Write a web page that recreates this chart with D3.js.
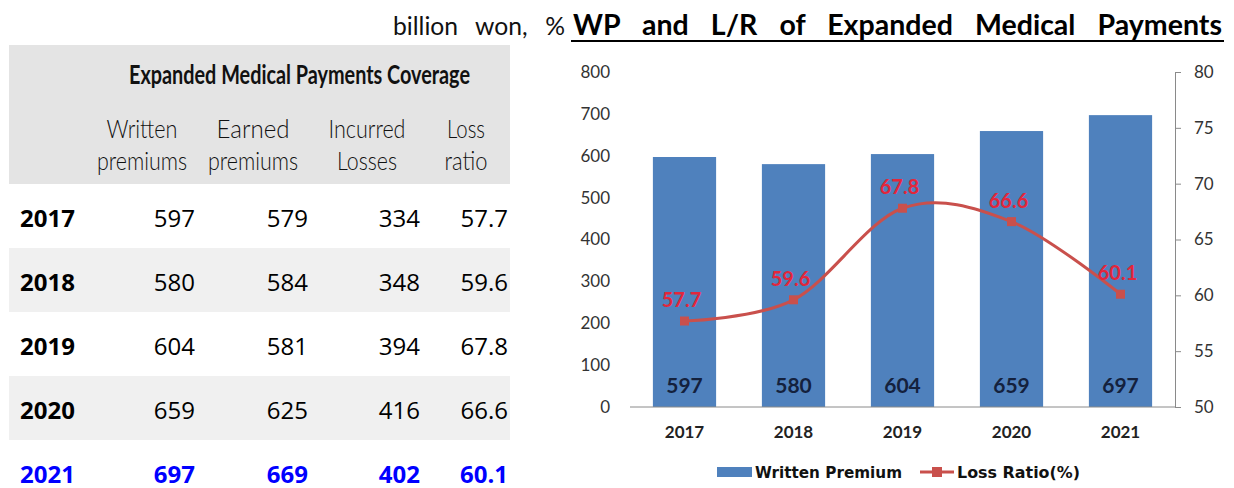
<!DOCTYPE html>
<html>
<head>
<meta charset="utf-8">
<script src="https://cdn.jsdelivr.net/npm/d3@7"></script>
<style>
  body { margin: 0; background: #fff; }
  svg { display: block; }
</style>
</head>
<body>
<script>
// data
var years = ["2017", "2018", "2019", "2020", "2021"];
var written = [597, 580, 604, 659, 697];
var earned = [579, 584, 581, 625, 669];
var incurred = [334, 348, 394, 416, 402];
var lossRatio = [57.7, 59.6, 67.8, 66.6, 60.1];
var leftTicks = [0, 100, 200, 300, 400, 500, 600, 700, 800];
var rightTicks = [50, 55, 60, 65, 70, 75, 80];
var colHeads = [["Written", "premiums"], ["Earned", "premiums"], ["Incurred", "Losses"], ["Loss", "ratio"]];

var width = 1234, height = 488;
var svg = d3.select("body").append("svg").attr("width", width).attr("height", height);

// fit text to a width: with fill, grow the font to fill*w and put the rest in word gaps;
// without it, just squeeze/stretch the glyphs
function fit(sel, w, fill) {
  sel.each(function() {
    var t = d3.select(this);
    var n = this.getComputedTextLength();
    var spaces = (t.text().match(/ /g) || []).length;
    if (fill && spaces) {
      var fs = parseFloat(t.style("font-size"));
      t.style("font-size", (fs * w * fill / n) + "px");
      var n2 = this.getComputedTextLength();
      t.attr("word-spacing", (w - n2) / spaces);
    } else {
      t.attr("textLength", w).attr("lengthAdjust", "spacingAndGlyphs");
    }
  });
}

// ---- top titles
svg.append("text")
    .attr("x", 393).attr("y", 35)
    .style("font-family", "Lato").style("font-size", "21px").attr("fill", "#111")
    .text("billion won, %")
    .call(fit, 172, 0.87);

svg.append("text")
    .attr("x", 573).attr("y", 35)
    .style("font-family", "Lato").style("font-size", "26px").style("font-weight", "bold")
    .attr("fill", "#000")
    .text("WP and L/R of Expanded Medical Payments")
    .call(fit, 649, 0.86);
svg.append("line")
    .attr("x1", 571).attr("x2", 1224).attr("y1", 41).attr("y2", 41)
    .attr("stroke", "#000").attr("stroke-width", 2);

// ---- table
var rows = d3.scaleBand().domain(years).range([184, 504]);
var colRight = [195, 308, 420, 508];
var colMid = [142, 253, 367, 466];
var headW = [[71, 90], [73, 90], [77, 60], [38, 43]];

svg.append("rect").attr("x", 9).attr("y", 45).attr("width", 501).attr("height", 139).attr("fill", "#e4e4e4");

svg.selectAll(".stripe")
  .data(years.filter((d, i) => i % 2 == 1))
  .join("rect")
    .attr("class", "stripe")
    .attr("x", 9).attr("width", 501)
    .attr("y", d => rows(d)).attr("height", rows.bandwidth())
    .attr("fill", "#f0f0f0");

svg.append("text")
    .attr("x", 129).attr("y", 84)
    .style("font-family", "Lato").style("font-size", "26px").style("font-weight", "bold")
    .attr("fill", "#111")
    .text("Expanded Medical Payments Coverage")
    .call(fit, 341);

colHeads.forEach(function(h, i) {
  h.forEach(function(s, j) {
    svg.append("text")
        .attr("x", colMid[i] - headW[i][j] / 2).attr("y", j == 0 ? 138 : 170)
        .style("font-family", "Lato").style("font-size", "25px").style("font-weight", 300)
        .attr("fill", "#111")
        .text(s)
        .call(fit, headW[i][j]);
  });
});

var tableCols = [written, earned, incurred, lossRatio];
years.forEach(function(yr, r) {
  var last = r == years.length - 1;
  var col = last ? "#0000ff" : "#000";
  svg.append("text")
      .attr("x", 20).attr("y", rows(yr) + 43)
      .style("font-family", "Open Sans").style("font-size", "24px").style("font-weight", "bold")
      .attr("fill", col)
      .text(yr);
  tableCols.forEach(function(arr, c) {
    svg.append("text")
        .attr("x", colRight[c]).attr("y", rows(yr) + 43)
        .attr("text-anchor", "end")
        .style("font-family", "Open Sans").style("font-size", "24px")
        .style("font-weight", last ? "bold" : "normal")
        .attr("fill", col)
        .text(c == 3 ? arr[r].toFixed(1) : arr[r]);
  });
});

// ---- chart
var x = d3.scaleBand().domain(years).range([630, 1175]).paddingInner(0.42).paddingOuter(0.21);
var yL = d3.scaleLinear().domain([0, 800]).range([407, 72]);
var yR = d3.scaleLinear().domain([50, 80]).range([407, 72]);
var barColor = "#4f81bd", lineColor = "#c9504c";

svg.append("g")
  .selectAll("rect")
  .data(written)
  .join("rect")
    .attr("x", (d, i) => x(years[i]))
    .attr("y", d => yL(d))
    .attr("width", x.bandwidth())
    .attr("height", d => yL(0) - yL(d))
    .attr("fill", barColor);

// x baseline
svg.append("line")
    .attr("x1", 630).attr("x2", 1175)
    .attr("y1", yL(0)).attr("y2", yL(0))
    .attr("stroke", "#8a8a8a").attr("stroke-width", 1);

// left axis labels only
svg.append("g")
  .selectAll("text")
  .data(leftTicks)
  .join("text")
    .attr("x", 610).attr("y", d => yL(d))
    .attr("dy", "0.35em")
    .attr("text-anchor", "end")
    .style("font-family", "Lato").style("font-size", "17px")
    .attr("fill", "#333")
    .text(d => d);

// right axis
svg.append("g")
    .attr("transform", "translate(1175,0)")
    .call(d3.axisRight(yR).tickValues(rightTicks).tickSize(6).tickSizeOuter(0).tickPadding(13))
    .call(g => g.select(".domain").attr("stroke", "#8a8a8a"))
    .call(g => g.selectAll(".tick line").attr("stroke", "#8a8a8a"))
    .call(g => g.selectAll(".tick text")
        .style("font-family", "Lato").style("font-size", "17px").attr("fill", "#333"));

// year labels
svg.append("g")
  .selectAll("text")
  .data(years)
  .join("text")
    .attr("x", d => x(d) + x.bandwidth() / 2)
    .attr("y", 438)
    .attr("text-anchor", "middle")
    .style("font-family", "Lato").style("font-size", "17px").style("font-weight", "bold")
    .attr("fill", "#222")
    .text(d => d);

// bar value labels
svg.append("g")
  .selectAll("text")
  .data(written)
  .join("text")
    .attr("x", (d, i) => x(years[i]) + x.bandwidth() / 2)
    .attr("y", 393)
    .attr("text-anchor", "middle")
    .style("font-family", "Lato").style("font-size", "21px").style("font-weight", "bold")
    .attr("fill", "#14213d")
    .text(d => d);

// loss ratio line
var line = d3.line()
    .curve(d3.curveCardinal.tension(0))
    .x((d, i) => x(years[i]) + x.bandwidth() / 2)
    .y(d => yR(d));

svg.append("path")
    .datum(lossRatio)
    .attr("d", line)
    .attr("fill", "none")
    .attr("stroke", lineColor)
    .attr("stroke-width", 3);

svg.append("g")
  .selectAll("rect")
  .data(lossRatio)
  .join("rect")
    .attr("x", (d, i) => x(years[i]) + x.bandwidth() / 2 - 4.5)
    .attr("y", d => yR(d) - 4.5)
    .attr("width", 9).attr("height", 9)
    .attr("fill", lineColor);

svg.append("g")
  .selectAll("text")
  .data(lossRatio)
  .join("text")
    .attr("x", (d, i) => x(years[i]) + x.bandwidth() / 2 - 3)
    .attr("y", d => yR(d) - 14)
    .attr("text-anchor", "middle")
    .style("font-family", "Lato").style("font-size", "20px").style("font-weight", "bold")
    .attr("fill", "#e3263b")
    .text(d => d.toFixed(1));

// legend
svg.append("rect").attr("x", 717).attr("y", 467).attr("width", 35).attr("height", 10).attr("fill", barColor);
svg.append("text")
    .attr("x", 755).attr("y", 478)
    .style("font-family", "DejaVu Sans").style("font-size", "15px").style("font-weight", "bold")
    .attr("fill", "#111")
    .text("Written Premium")
    .call(fit, 147);
svg.append("line")
    .attr("x1", 920).attr("x2", 954).attr("y1", 472).attr("y2", 472)
    .attr("stroke", lineColor).attr("stroke-width", 3);
svg.append("rect").attr("x", 932).attr("y", 467).attr("width", 10).attr("height", 10).attr("fill", lineColor);
svg.append("text")
    .attr("x", 957).attr("y", 478)
    .style("font-family", "DejaVu Sans").style("font-size", "15px").style("font-weight", "bold")
    .attr("fill", "#111")
    .text("Loss Ratio(%)")
    .call(fit, 123);
</script>
</body>
</html>
